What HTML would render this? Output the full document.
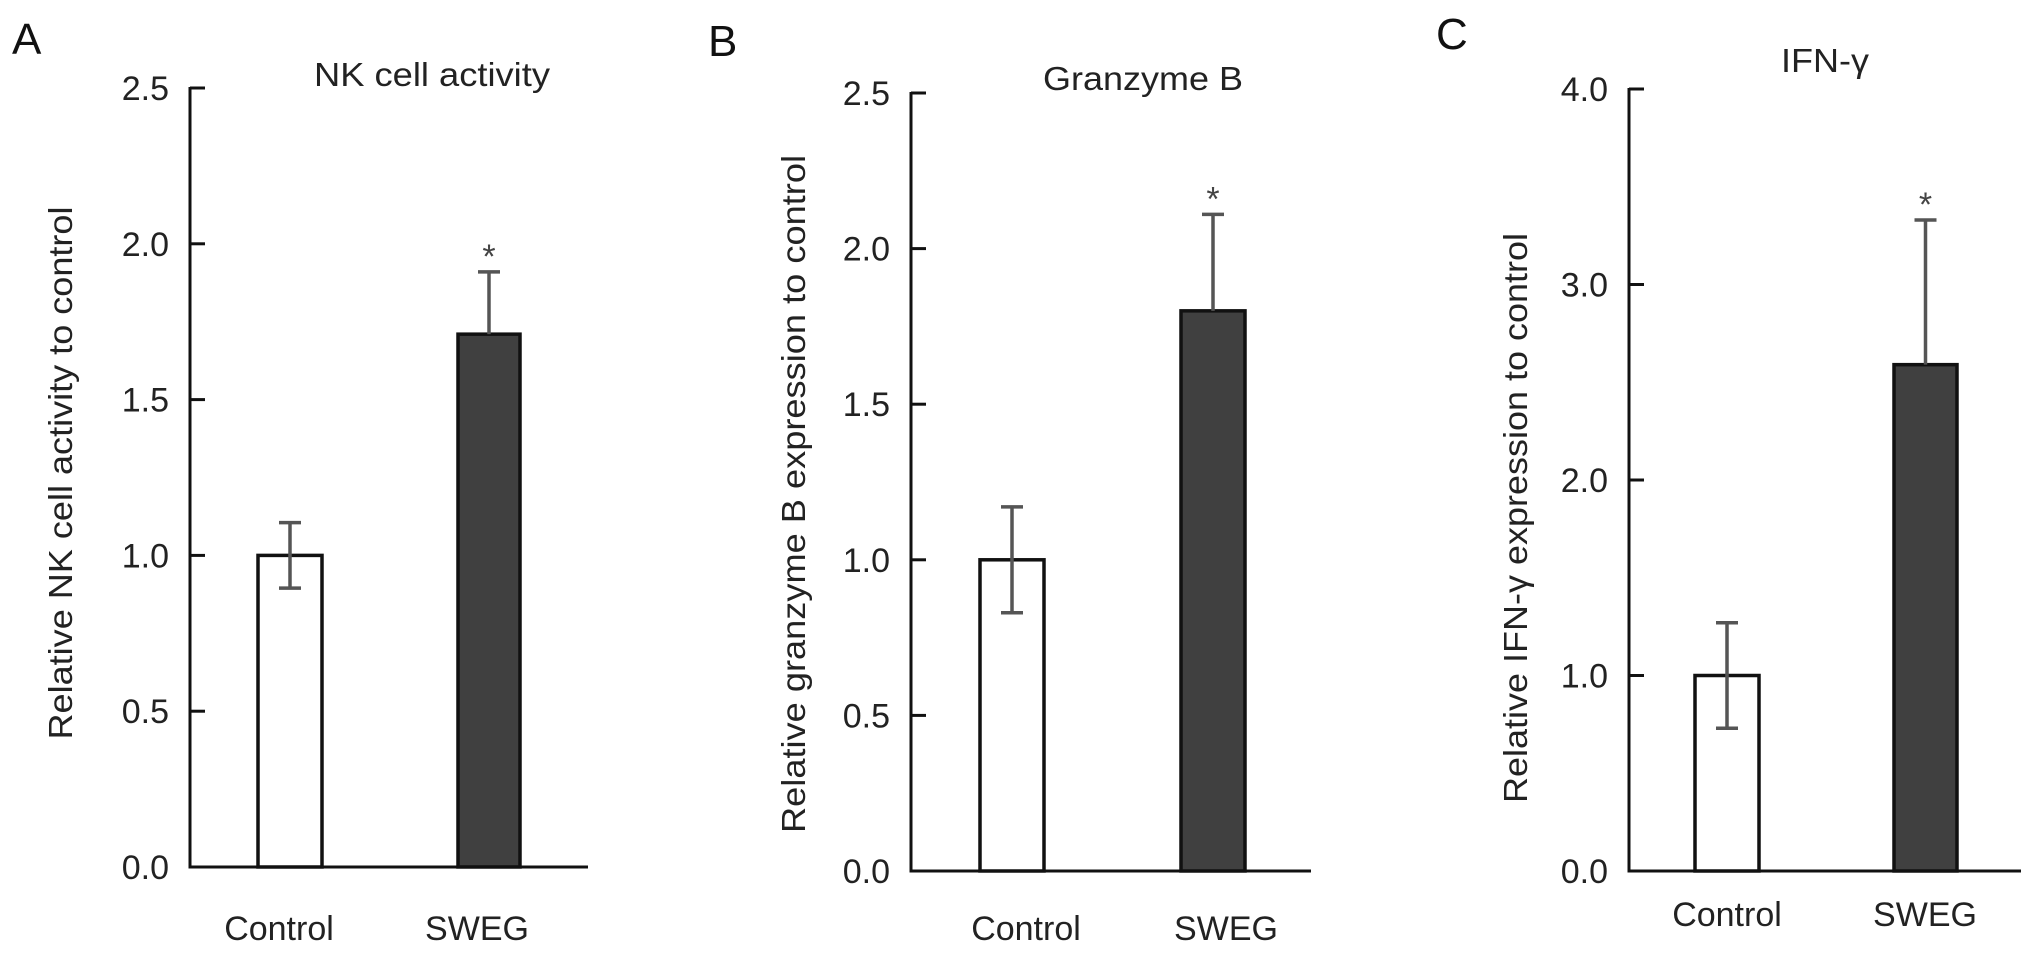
<!DOCTYPE html>
<html><head><meta charset="utf-8"><style>
html,body{margin:0;padding:0;background:#fff;}
svg{display:block;font-family:"Liberation Sans",Arial,sans-serif;}
</style></head><body>
<svg id="chart" width="2032" height="953" viewBox="0 0 2032 953"></svg>
<script>
const categories = ["Control", "SWEG"];
const nkValues = [1.0, 1.71];
const nkErrors = [0.105, 0.20];
const gzbValues = [1.0, 1.80];
const gzbErrors = [0.17, 0.31];
const ifnValues = [1.0, 2.59];
const ifnErrors = [0.27, 0.74];
const tickLabelsAB = ["0.0","0.5","1.0","1.5","2.0","2.5"];
const tickLabelsC = ["0.0","1.0","2.0","3.0","4.0"];
const sigMarks = ["", "*"];

const NS = "http://www.w3.org/2000/svg";
const svg = document.getElementById("chart");
function mk(tag, attrs, parent, text){
  const e = document.createElementNS(NS, tag);
  for (const k in attrs) e.setAttribute(k, attrs[k]);
  if (text !== undefined) e.textContent = text;
  (parent||svg).appendChild(e);
  return e;
}

const panels = [
  {id:"a", letter:"A", lx:12, ly:54, title:"NK cell activity", tx:432, ty:86, tlen:236,
   ax:190, xEnd:588, yTop:88, y0:867, max:2.5, ticks:tickLabelsAB,
   bars:[[258,322],[458,520]], values:nkValues, errors:nkErrors,
   ylab:"Relative NK cell activity to control", ylx:72, yly:473, yllen:533,
   catY:940, catX:[279,477]},
  {id:"b", letter:"B", lx:708, ly:56, title:"Granzyme B", tx:1143, ty:90, tlen:200,
   ax:911, xEnd:1311, yTop:93, y0:871, max:2.5, ticks:tickLabelsAB,
   bars:[[980,1044],[1181,1245]], values:gzbValues, errors:gzbErrors,
   ylab:"Relative granzyme B expression to control", ylx:805, yly:494, yllen:678,
   catY:940, catX:[1026,1226]},
  {id:"c", letter:"C", lx:1436, ly:49, title:"IFN-γ", tx:1825, ty:72, tlen:88,
   ax:1629, xEnd:2021, yTop:89, y0:871, max:4.0, ticks:tickLabelsC,
   bars:[[1695,1759],[1894,1957]], values:ifnValues, errors:ifnErrors,
   ylab:"Relative IFN-γ expression to control", ylx:1527, yly:518, yllen:570,
   catY:926, catX:[1727,1925]}
];

panels.forEach(p => {
  const g = mk("g", {});
  
  
  const y = v => p.y0 - (v / p.max) * (p.y0 - p.yTop);

  const L = mk("text", {x:p.lx, y:p.ly, "font-size":44, fill:"#111"}, g, p.letter);
  
  

  const T = mk("text", {x:p.tx, y:p.ty, "font-size":33, "text-anchor":"middle", fill:"#222", textLength:p.tlen, lengthAdjust:"spacingAndGlyphs"}, g, p.title);
  
  

  const YL = mk("text", {x:0, y:0, "font-size":33, "text-anchor":"middle", fill:"#222",
    transform:`translate(${p.ylx},${p.yly}) rotate(-90)`, textLength:p.yllen, lengthAdjust:"spacingAndGlyphs"}, g, p.ylab);
  
  

  p.values.forEach((v, i) => {
    const [x1, x2] = p.bars[i];
    const r = mk("rect", {x:x1, y:y(v), width:x2-x1, height:p.y0 - y(v),
      fill: i === 0 ? "#fff" : "#404040", stroke:"#111", "stroke-width":3.5}, g);
    
    
    const cx = (x1 + x2) / 2;
    const top = y(v + p.errors[i]);
    const bot = i === 0 ? y(v - p.errors[i]) : y(v);
    const eg = mk("g", {stroke:"#555", "stroke-width":3.5}, g);
    
    
    mk("line", {x1:cx, x2:cx, y1:top, y2:bot}, eg);
    mk("line", {x1:cx-11, x2:cx+11, y1:top, y2:top}, eg);
    if (i === 0) mk("line", {x1:cx-11, x2:cx+11, y1:bot, y2:bot}, eg);
    if (sigMarks[i]) {
      const s = mk("text", {x:cx, y:top - 4, "font-size":34, "text-anchor":"middle", fill:"#444"}, g, sigMarks[i]);
      
      
    }
  });

  const ya = mk("line", {x1:p.ax, x2:p.ax, y1:p.yTop-1, y2:p.y0+1.5, stroke:"#111", "stroke-width":3}, g);
  
  
  const xa = mk("line", {x1:p.ax-1.5, x2:p.xEnd, y1:p.y0, y2:p.y0, stroke:"#111", "stroke-width":3}, g);
  
  

  const step = p.max / (p.ticks.length - 1);
  p.ticks.forEach((t, k) => {
    const ty = y(k * step);
    mk("line", {x1:p.ax, x2:p.ax+15, y1:ty, y2:ty, stroke:"#111", "stroke-width":3}, g);
    const tl = mk("text", {x:p.ax-21, y:ty+12, "font-size":34, "text-anchor":"end", fill:"#222"}, g, t);
    
    
  });

  categories.forEach((c, i) => {
    const cl = mk("text", {x:p.catX[i], y:p.catY, "font-size":34, "text-anchor":"middle", fill:"#222"}, g, c);
    
    
  });
});
</script>
</body></html>
